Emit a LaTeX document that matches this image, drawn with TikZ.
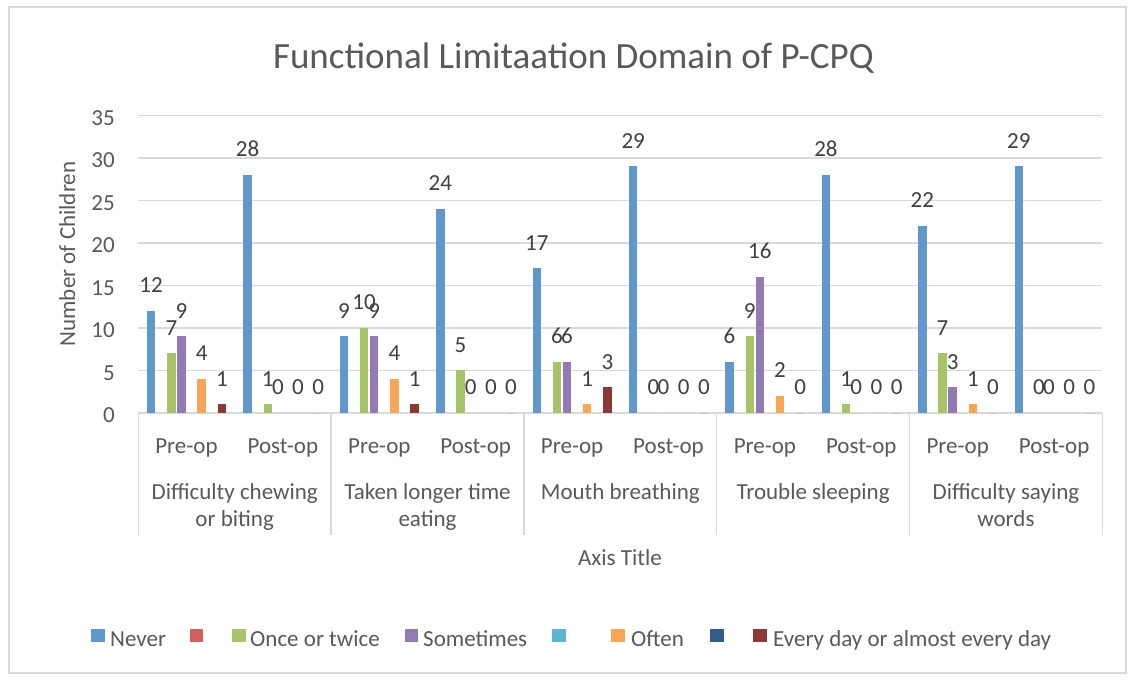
\documentclass[tikz,border=0pt]{standalone}
\usepackage{fontspec}
\setmainfont{Carlito}
\definecolor{sblue}{RGB}{97,151,205}
\definecolor{sred}{RGB}{207,98,90}
\definecolor{sgreen}{RGB}{168,196,107}
\definecolor{spurple}{RGB}{148,122,178}
\definecolor{scyan}{RGB}{89,183,208}
\definecolor{sorange}{RGB}{250,165,85}
\definecolor{sdblue}{RGB}{52,92,134}
\definecolor{sdred}{RGB}{140,56,52}
\definecolor{gridc}{RGB}{217,217,217}
\definecolor{txt}{RGB}{89,89,89}
\definecolor{dlab}{RGB}{64,64,64}
\tikzset{
  gridline/.style={draw=gridc, line width=1.5pt},
  lbl/.style={font=\fontsize{23}{27}\selectfont, text=txt, inner sep=0pt},
  dlbl/.style={font=\fontsize{23}{27}\selectfont, text=dlab, inner sep=0pt, anchor=base},
  legsq/.style={inner sep=0pt, minimum size=13.5pt, anchor=north west}
}
\begin{document}
\begin{tikzpicture}[x=1pt,y=-1pt]
\useasboundingbox (0,0) rectangle (1135,680);
\fill[white] (0,0) rectangle (1135,680);
\draw[gridline] (9,7) rectangle (1126,673);
% title
\node[anchor=base, font=\fontsize{37}{44}\selectfont, text=txt, inner sep=0pt] (title) at (573.5,68.5) {Functional Limitaation Domain of P-CPQ};
% grid
\foreach \v in {5,10,...,35}
  \draw[gridline] (138.3,{412.8-8.5*\v}) -- (1101.7,{412.8-8.5*\v});
\foreach \v in {0,5,...,35}
  \node[lbl, anchor=base east] (tick\v) at (115,{412.8-8.5*\v+10}) {\v};
% category axis
\draw[gridline] (138.3,412.8) -- (1101.7,412.8);
\foreach \k in {0,...,5}
  \draw[gridline] ({138.3+192.8*\k},412.8) -- ({138.3+192.8*\k},535);
% bars and labels
\foreach \c/\a/\b/\d/\e/\f in {0/12/7/9/4/1, 1/28/1/0/0/0, 2/9/10/9/4/1, 3/24/5/0/0/0, 4/17/6/6/1/3, 5/29/0/0/0/0, 6/6/9/16/2/0, 7/28/1/0/0/0, 8/22/7/3/1/0, 9/29/0/0/0/0}{
  \foreach \i/\v/\col in {0/\a/sblue, 2/\b/sgreen, 3/\d/spurple, 5/\e/sorange, 7/\f/sdred}{
    \pgfmathsetmacro\xc{138.3+96.4*\c+7.8+10.1*(\i+0.5)}
    \fill[\col] ({\xc-4.2},412.8) rectangle ({\xc+4.2},{412.8-8.5*\v});
    \node[dlbl] (lab-\c-\i) at (\xc,{412.8-8.5*\v-18}) {\v};
  }
}
% category labels
\foreach \c/\t in {0/Pre-op,1/Post-op,2/Pre-op,3/Post-op,4/Pre-op,5/Post-op,6/Pre-op,7/Post-op,8/Pre-op,9/Post-op}
  \node[lbl, anchor=base] (cat\c) at ({138.3+96.4*(\c+0.5)},453) {\t};
\node[lbl, anchor=base] (g0a) at (234.7,499) {Difficulty chewing};
\node[lbl, anchor=base] (g0b) at (234.7,526) {or biting};
\node[lbl, anchor=base] (g1a) at (427.5,499) {Taken longer time};
\node[lbl, anchor=base] (g1b) at (427.5,526) {eating};
\node[lbl, anchor=base] (g2a) at (620.3,499) {Mouth breathing};
\node[lbl, anchor=base] (g3a) at (813.1,499) {Trouble sleeping};
\node[lbl, anchor=base] (g4a) at (1005.9,499) {Difficulty saying};
\node[lbl, anchor=base] (g4b) at (1005.9,526) {words};
% axis titles
\node[lbl, anchor=base] (xtitle) at (620,565) {Axis Title};
\node[lbl, anchor=base, rotate=90] (ytitle) at (75,254) {Number of Children};
% legend
\node[legsq, fill=sblue] (L0) at (91,628.5) {};
\node[lbl, anchor=base west] (T0) at (110,646) {Never};
\node[legsq, fill=sred] (L1) at (189.5,628.5) {};
\node[legsq, fill=sgreen] (L2) at (232,628.5) {};
\node[lbl, anchor=base west] (T2) at (250,646) {Once or twice};
\node[legsq, fill=spurple] (L3) at (404.5,628.5) {};
\node[lbl, anchor=base west] (T3) at (423,646) {Sometimes};
\node[legsq, fill=scyan] (L4) at (552,628.5) {};
\node[legsq, fill=sorange] (L5) at (611,628.5) {};
\node[lbl, anchor=base west] (T5) at (631,646) {Often};
\node[legsq, fill=sdblue] (L6) at (710,628.5) {};
\node[legsq, fill=sdred] (L7) at (753,628.5) {};
\node[lbl, anchor=base west] (T7) at (773,646) {Every day or almost every day};
\end{tikzpicture}
\end{document}
